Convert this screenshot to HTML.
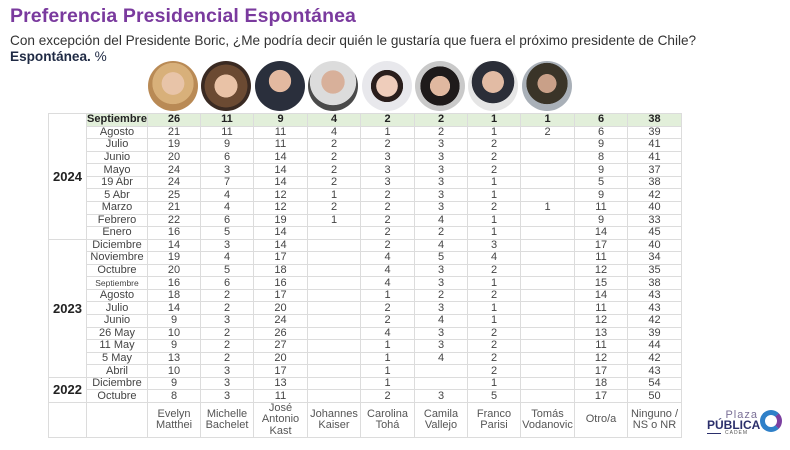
<!DOCTYPE html>
<html><head><meta charset="utf-8">
<style>
*{margin:0;padding:0;box-sizing:border-box}
body{width:790px;height:450px;background:#fff;font-family:"Liberation Sans","DejaVu Sans",sans-serif;position:relative;overflow:hidden}
.t1{position:absolute;left:10px;top:5px;font-size:19.5px;font-weight:bold;color:#7a3a9e;letter-spacing:0.1px}
.t2{position:absolute;left:10px;top:33px;font-size:13.6px;color:#333}
.t3{position:absolute;left:10px;top:49px;font-size:13.6px;color:#1f2a44}
.ph{position:absolute;top:61px;width:50px;height:50px;border-radius:50%;overflow:hidden}
table{position:absolute;left:48px;top:113px;border-collapse:collapse;table-layout:fixed;font-size:11px;color:#444}
td{border:1px solid #dcdcdc;text-align:center;height:12.57px;line-height:11px;padding:0;white-space:nowrap}
tr.h td{background:#e2efda;font-weight:bold;color:#222}
tr.h td.y, td.y{font-weight:bold;font-size:13px;color:#222;background:#fff}
tr.f td{height:35px;line-height:11.5px;font-size:11px;color:#555}
</style></head><body>
<div class="t1">Preferencia Presidencial Espontánea</div>
<div class="t2">Con excepción del Presidente Boric, ¿Me podría decir quién le gustaría que fuera el próximo presidente de Chile?</div>
<div class="t3"><b>Espontánea.</b> %</div>

<div class="ph" style="left:148px;background:radial-gradient(circle at 50% 45%,#e8c4a8 0 30%,#d8b07a 31% 55%,#b98a55 56%)"></div>
<div class="ph" style="left:201px;background:radial-gradient(circle at 50% 50%,#e9c2a6 0 32%,#6b4a32 33% 60%,#3a2a22 61%)"></div>
<div class="ph" style="left:255px;background:radial-gradient(circle at 50% 40%,#e3b9a0 0 28%,#2a2f3c 29%)"></div>
<div class="ph" style="left:308px;background:radial-gradient(circle at 50% 42%,#d8b09a 0 30%,#dcdcdc 31% 60%,#4a4a4a 61%)"></div>
<div class="ph" style="left:362px;background:radial-gradient(circle at 50% 50%,#efcdbb 0 30%,#2a1e1c 31% 45%,#e8e8ec 46%)"></div>
<div class="ph" style="left:415px;background:radial-gradient(circle at 50% 50%,#e0b8a0 0 28%,#1e1a1a 29% 55%,#c9c9c9 56%)"></div>
<div class="ph" style="left:468px;background:radial-gradient(circle at 50% 42%,#e2bba4 0 28%,#2b2e38 29% 55%,#e5e5e5 56%)"></div>
<div class="ph" style="left:522px;background:radial-gradient(circle at 50% 45%,#c9a088 0 25%,#3a3428 26% 55%,#a9b0b8 56%)"></div>

<table>
<colgroup><col style="width:38px"><col style="width:61px"><col style="width:53px"><col style="width:53px"><col style="width:54px"><col style="width:53px"><col style="width:54px"><col style="width:53px"><col style="width:53px"><col style="width:54px"><col style="width:53px"><col style="width:54px"></colgroup>
<tr class="h"><td class="y" rowspan="10">2024</td><td>Septiembre</td><td>26</td><td>11</td><td>9</td><td>4</td><td>2</td><td>2</td><td>1</td><td>1</td><td>6</td><td>38</td></tr>
<tr><td>Agosto</td><td>21</td><td>11</td><td>11</td><td>4</td><td>1</td><td>2</td><td>1</td><td>2</td><td>6</td><td>39</td></tr>
<tr><td>Julio</td><td>19</td><td>9</td><td>11</td><td>2</td><td>2</td><td>3</td><td>2</td><td></td><td>9</td><td>41</td></tr>
<tr><td>Junio</td><td>20</td><td>6</td><td>14</td><td>2</td><td>3</td><td>3</td><td>2</td><td></td><td>8</td><td>41</td></tr>
<tr><td>Mayo</td><td>24</td><td>3</td><td>14</td><td>2</td><td>3</td><td>3</td><td>2</td><td></td><td>9</td><td>37</td></tr>
<tr><td>19 Abr</td><td>24</td><td>7</td><td>14</td><td>2</td><td>3</td><td>3</td><td>1</td><td></td><td>5</td><td>38</td></tr>
<tr><td>5 Abr</td><td>25</td><td>4</td><td>12</td><td>1</td><td>2</td><td>3</td><td>1</td><td></td><td>9</td><td>42</td></tr>
<tr><td>Marzo</td><td>21</td><td>4</td><td>12</td><td>2</td><td>2</td><td>3</td><td>2</td><td>1</td><td>11</td><td>40</td></tr>
<tr><td>Febrero</td><td>22</td><td>6</td><td>19</td><td>1</td><td>2</td><td>4</td><td>1</td><td></td><td>9</td><td>33</td></tr>
<tr><td>Enero</td><td>16</td><td>5</td><td>14</td><td></td><td>2</td><td>2</td><td>1</td><td></td><td>14</td><td>45</td></tr>
<tr><td class="y" rowspan="11">2023</td><td>Diciembre</td><td>14</td><td>3</td><td>14</td><td></td><td>2</td><td>4</td><td>3</td><td></td><td>17</td><td>40</td></tr>
<tr><td>Noviembre</td><td>19</td><td>4</td><td>17</td><td></td><td>4</td><td>5</td><td>4</td><td></td><td>11</td><td>34</td></tr>
<tr><td>Octubre</td><td>20</td><td>5</td><td>18</td><td></td><td>4</td><td>3</td><td>2</td><td></td><td>12</td><td>35</td></tr>
<tr><td style="font-size:8.5px">Septiembre</td><td>16</td><td>6</td><td>16</td><td></td><td>4</td><td>3</td><td>1</td><td></td><td>15</td><td>38</td></tr>
<tr><td>Agosto</td><td>18</td><td>2</td><td>17</td><td></td><td>1</td><td>2</td><td>2</td><td></td><td>14</td><td>43</td></tr>
<tr><td>Julio</td><td>14</td><td>2</td><td>20</td><td></td><td>2</td><td>3</td><td>1</td><td></td><td>11</td><td>43</td></tr>
<tr><td>Junio</td><td>9</td><td>3</td><td>24</td><td></td><td>2</td><td>4</td><td>1</td><td></td><td>12</td><td>42</td></tr>
<tr><td>26 May</td><td>10</td><td>2</td><td>26</td><td></td><td>4</td><td>3</td><td>2</td><td></td><td>13</td><td>39</td></tr>
<tr><td>11 May</td><td>9</td><td>2</td><td>27</td><td></td><td>1</td><td>3</td><td>2</td><td></td><td>11</td><td>44</td></tr>
<tr><td>5 May</td><td>13</td><td>2</td><td>20</td><td></td><td>1</td><td>4</td><td>2</td><td></td><td>12</td><td>42</td></tr>
<tr><td>Abril</td><td>10</td><td>3</td><td>17</td><td></td><td>1</td><td></td><td>2</td><td></td><td>17</td><td>43</td></tr>
<tr><td class="y" rowspan="2">2022</td><td>Diciembre</td><td>9</td><td>3</td><td>13</td><td></td><td>1</td><td></td><td>1</td><td></td><td>18</td><td>54</td></tr>
<tr><td>Octubre</td><td>8</td><td>3</td><td>11</td><td></td><td>2</td><td>3</td><td>5</td><td></td><td>17</td><td>50</td></tr>
<tr class="f"><td></td><td></td><td>Evelyn<br>Matthei</td><td>Michelle<br>Bachelet</td><td>José<br>Antonio<br>Kast</td><td>Johannes<br>Kaiser</td><td>Carolina<br>Tohá</td><td>Camila<br>Vallejo</td><td>Franco<br>Parisi</td><td>Tomás<br>Vodanovic</td><td>Otro/a</td><td>Ninguno /<br>NS o NR</td></tr>
</table>

<div style="position:absolute;left:708px;top:409px;width:50px;text-align:right;font-size:11px;color:#7a6f96;letter-spacing:1px">Plaza</div>
<div style="position:absolute;left:707px;top:418px;font-size:12px;font-weight:bold;color:#2b2f6b">PÚBLICA</div>
<div style="position:absolute;left:707px;top:433px;width:14px;height:1px;background:#2b2f6b"></div>
<div style="position:absolute;left:725px;top:430px;font-size:5px;color:#555;letter-spacing:1px">CADEM</div>
<div style="position:absolute;left:760px;top:410px;width:22px;height:22px;border-radius:50%;border:5px solid #2f80c8;border-right-color:#7b3fa0"></div>
</body></html>
